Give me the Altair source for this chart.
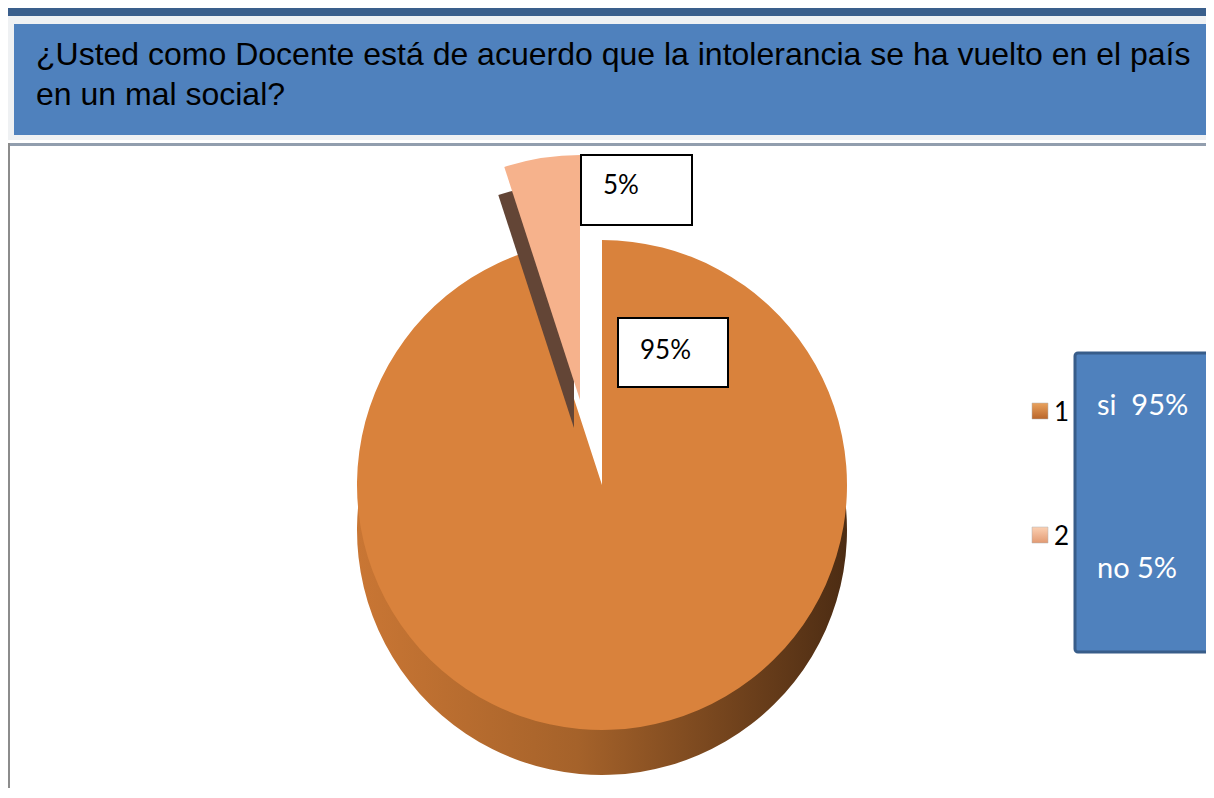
import altair as alt
import pandas as pd

# ---- data ----
categories = ["1", "2"]
values = [95, 5]
answers = ["si", "no"]
legend_texts = ["si\u00a0\u00a095%", "no\u00a05%"]
title_lines = [
    "¿Usted como Docente está de acuerdo que la intolerancia se ha vuelto en el país",
    "en un mal social?",
]

top_colors = ["#D9823C", "#F6B28C"]

df = pd.DataFrame({"cat": categories, "value": values, "answer": answers, "legend": legend_texts})
df["pct"] = df["value"].astype(str) + "%"
one = pd.DataFrame({"k": [0]})

W, H = 1198, 780
R = 245

base = alt.Chart(df)


def box(x1, y1, x2, y2, **kw):
    return alt.Chart(one).mark_rect(**kw).encode(
        x=alt.value(x1), x2=alt.value(x2), y=alt.value(y1), y2=alt.value(y2)
    )


def pie(cx, cy, show_cat, color_enc=True, **mark_kw):
    enc = dict(
        theta=alt.Theta("value:Q", stack=True),
        order=alt.Order("cat:N"),
        detail="cat:N",
        x=alt.value(cx),
        y=alt.value(cy),
        opacity=alt.condition(alt.datum.cat == show_cat, alt.value(1), alt.value(0)),
    )
    if color_enc:
        enc["color"] = alt.Color(
            "cat:N", scale=alt.Scale(domain=categories, range=top_colors), legend=None
        )
    return base.mark_arc(radius=R, **mark_kw).encode(**enc)


side_grad = alt.Gradient(
    gradient="linear",
    x1=0, x2=1, y1=0, y2=0,
    stops=[
        alt.GradientStop(color="#C97634", offset=0),
        alt.GradientStop(color="#A5622A", offset=0.45),
        alt.GradientStop(color="#4C2C13", offset=1),
    ],
)

# background / frame
header_bg = box(0, 8, W, 132, color="#EFF1F3")
header_bar = box(0, 0, W, 8, color="#3A5F8C")
title_box = box(6, 16, 1202, 127, color="#4F81BD")
frame_top = box(0, 135, W, 138, color="#929EAE")
frame_left = box(0, 135, 2, H, color="#8C8C8C")

title = alt.Chart(one).mark_text(
    text=title_lines, align="left", baseline="alphabetic", fontSize=32,
    font="Liberation Sans", color="#000000", lineHeight=40,
).encode(x=alt.value(28), y=alt.value(57))

# pie
main_side = pie(594, 522, "1", color_enc=False, color=side_grad)
main_top = pie(594, 477, "1")
expl_side = pie(566, 420, "2", color_enc=False, color="#634536")
expl_top = pie(572, 392, "2")

# data labels
lab5_box = box(573, 147, 684, 217, color="#FFFFFF", stroke="#000000", strokeWidth=2)
lab95_box = box(610, 310, 720, 379, color="#FFFFFF", stroke="#000000", strokeWidth=2)
lab5 = base.transform_filter(alt.datum.cat == "2").mark_text(
    align="left", baseline="alphabetic", fontSize=26, font="Lato", color="#000000"
).encode(text="pct:N", x=alt.value(595), y=alt.value(186))
lab95 = base.transform_filter(alt.datum.cat == "1").mark_text(
    align="left", baseline="alphabetic", fontSize=26, font="Lato", color="#000000"
).encode(text="pct:N", x=alt.value(632), y=alt.value(351))

# legend
leg_box = box(1067, 345, 1214, 644, color="#4F81BD", stroke="#385D8A", strokeWidth=3, cornerRadius=3)
leg_grad = {
    "1": alt.Gradient(gradient="linear", x1=0, x2=0, y1=0, y2=1, stops=[
        alt.GradientStop(color="#E9A25E", offset=0), alt.GradientStop(color="#B9652A", offset=1)]),
    "2": alt.Gradient(gradient="linear", x1=0, x2=0, y1=0, y2=1, stops=[
        alt.GradientStop(color="#FBD0B3", offset=0), alt.GradientStop(color="#E29A72", offset=1)]),
}
leg_layers = []
for cat, my, ty in [("1", 395, 413), ("2", 519, 537)]:
    leg_layers.append(
        base.transform_filter(alt.datum.cat == cat).mark_rect(
            color=leg_grad[cat], stroke="#B0B0B0", strokeWidth=0.5
        ).encode(
            x=alt.value(1024), x2=alt.value(1040), y=alt.value(my), y2=alt.value(my + 16),
        )
    )
    leg_layers.append(
        base.transform_filter(alt.datum.cat == cat).mark_text(
            align="left", baseline="alphabetic", fontSize=26, font="Lato", color="#000000"
        ).encode(text="cat:N", x=alt.value(1046), y=alt.value(ty))
    )
for cat, ty in [("1", 407), ("2", 570)]:
    leg_layers.append(
        base.transform_filter(alt.datum.cat == cat).mark_text(
            align="left", baseline="alphabetic", fontSize=29,
            font="Lato", color="#FFFFFF",
        ).encode(text="legend:N", x=alt.value(1089), y=alt.value(ty))
    )

chart = alt.layer(
    header_bg, header_bar, title_box, frame_top, frame_left, title,
    main_side, main_top, expl_side, expl_top,
    lab5_box, lab95_box, lab5, lab95,
    leg_box, *leg_layers,
).properties(
    width=W, height=H, padding=0,
    autosize=alt.AutoSizeParams(type="fit", contains="padding"),
    background="#FFFFFF",
).configure_view(stroke=None)

chart.save("out.html", embed_options={"renderer": "svg", "actions": False})
